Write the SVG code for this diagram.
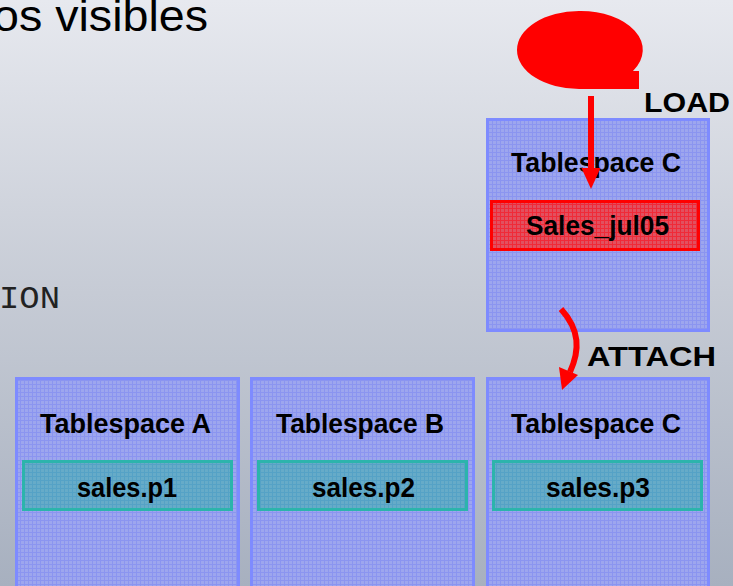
<svg xmlns="http://www.w3.org/2000/svg" width="733" height="586" viewBox="0 0 733 586">
  <defs>
    <linearGradient id="bg" x1="0" y1="0" x2="0" y2="1">
      <stop offset="0" stop-color="#e7e9ef"/>
      <stop offset="0.5" stop-color="#c6cbd5"/>
      <stop offset="1" stop-color="#a7b0bf"/>
    </linearGradient>
    <!-- fine mesh used to fill the tablespace boxes -->
    <pattern id="mesh" width="4" height="4" patternUnits="userSpaceOnUse">
      <rect width="4" height="4" fill="#9da6ee"/>
      <path d="M0 0.5H4M0.5 0V4" stroke="#8b95f0" stroke-width="1"/>
    </pattern>
    <pattern id="meshTeal" width="4" height="4" patternUnits="userSpaceOnUse">
      <rect width="4" height="4" fill="#66abc8"/>
      <path d="M0 0.5H4M0.5 0V4" stroke="#55a2c6" stroke-width="1"/>
    </pattern>
    <pattern id="meshRed" width="4" height="4" patternUnits="userSpaceOnUse">
      <rect width="4" height="4" fill="#e2505f"/>
      <path d="M0 0.5H4M0.5 0V4" stroke="#f02a38" stroke-width="1"/>
    </pattern>
    <style>
      .ts { fill: url(#mesh); stroke: #7e8bff; stroke-width: 3; }
      .part { fill: url(#meshTeal); stroke: #2cb4ac; stroke-width: 3; }
      .newpart { fill: url(#meshRed); stroke: #ff0000; stroke-width: 3; }
      .lbl { font-family: "Liberation Sans", Arial, sans-serif; font-weight: bold; font-size: 27px; fill: #000; }
      .op { font-family: "Liberation Sans", Arial, sans-serif; font-weight: bold; font-size: 28px; fill: #000; }
      .wire { fill: none; stroke: #ff0000; stroke-width: 6; }
    </style>
  </defs>

  <rect width="733" height="586" fill="url(#bg)"/>

  <!-- slide text fragments -->
  <text x="-7" y="31" font-family="'Liberation Sans', Arial, sans-serif" font-size="45" fill="#000" textLength="215" lengthAdjust="spacingAndGlyphs">os visibles</text>
  <text x="-1" y="308" font-family="'Liberation Mono', 'Courier New', monospace" font-size="31" fill="#222" textLength="61" lengthAdjust="spacingAndGlyphs">ION</text>

  <!-- staging blob -->
  <g id="source">
    <path d="M579 11 A62 39 0 1 0 579 89 L639 89 L639 71 L633 71 A62 39 0 0 0 579 11 Z" fill="#ff0000"/>
  </g>

  <g id="ts-c-staging">
    <rect class="ts" x="487.5" y="119.5" width="221" height="211"/>
    <text class="lbl" x="511" y="172" textLength="170" lengthAdjust="spacingAndGlyphs">Tablespace C</text>
  </g>
  <g id="sales-jul05">
    <rect class="newpart" x="491.5" y="201.5" width="207" height="48"/>
    <text class="lbl" x="526" y="235" textLength="143" lengthAdjust="spacingAndGlyphs">Sales_jul05</text>
  </g>

  <g id="ts-a">
    <rect class="ts" x="16.5" y="378.5" width="222" height="220"/>
    <text class="lbl" x="40" y="433" textLength="171" lengthAdjust="spacingAndGlyphs">Tablespace A</text>
  </g>
  <g id="sales-p1">
    <rect class="part" x="23.5" y="461.5" width="208" height="48"/>
    <text class="lbl" x="77" y="497" textLength="100" lengthAdjust="spacingAndGlyphs">sales.p1</text>
  </g>

  <g id="ts-b">
    <rect class="ts" x="251.5" y="378.5" width="222" height="220"/>
    <text class="lbl" x="276" y="433" textLength="168" lengthAdjust="spacingAndGlyphs">Tablespace B</text>
  </g>
  <g id="sales-p2">
    <rect class="part" x="258.5" y="461.5" width="208" height="48"/>
    <text class="lbl" x="312" y="497" textLength="103" lengthAdjust="spacingAndGlyphs">sales.p2</text>
  </g>

  <g id="ts-c">
    <rect class="ts" x="487.5" y="378.5" width="221" height="220"/>
    <text class="lbl" x="511" y="433" textLength="170" lengthAdjust="spacingAndGlyphs">Tablespace C</text>
  </g>
  <g id="sales-p3">
    <rect class="part" x="493.5" y="461.5" width="208" height="48"/>
    <text class="lbl" x="546" y="497" textLength="104" lengthAdjust="spacingAndGlyphs">sales.p3</text>
  </g>

  <!-- operations -->
  <g id="connectors">
    <path class="wire" d="M591 96 L591 170"/>
    <path d="M581.5 168 L600.5 168 L591 189 Z" fill="#ff0000"/>
    <path class="wire" d="M561 309 C580 330 580 350 570 372"/>
    <path d="M559 367 L578 375 L562 390 Z" fill="#ff0000"/>
  </g>
  <text class="op" x="644" y="112" textLength="86" lengthAdjust="spacingAndGlyphs">LOAD</text>
  <text class="op" x="587" y="366" textLength="129" lengthAdjust="spacingAndGlyphs">ATTACH</text>
</svg>
